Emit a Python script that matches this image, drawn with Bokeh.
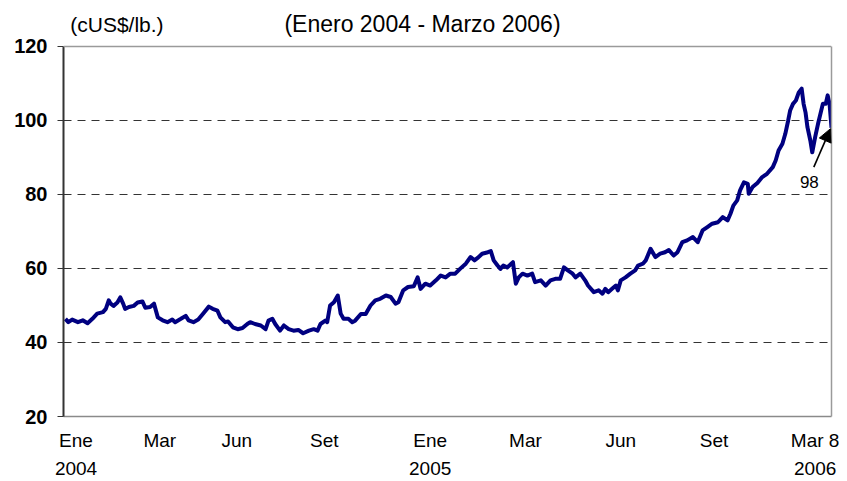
from bokeh.plotting import figure
from bokeh.models import FixedTicker, Range1d, Label, Arrow, NormalHead, ColumnDataSource, LinearAxis, Span
from bokeh.embed import file_html
from bokeh.resources import INLINE

# Precio del cobre (cUS$/lb.), enero 2004 - 8 de marzo 2006 (días desde 1-ene-2004)
dia = [1, 4, 8, 14, 19, 24, 29, 34, 40, 43, 46, 48, 51, 55, 58, 61, 63, 67, 72, 76,
       81, 84, 89, 93, 97, 102, 107, 112, 115, 121, 126, 129, 134, 139, 144, 150, 154, 159, 162, 167,
       170, 175, 180, 185, 190, 193, 198, 204, 209, 212, 216, 219, 224, 228, 233, 238, 243, 248, 254, 259,
       263, 266, 271, 273, 276, 280, 284, 287, 290, 295, 299, 302, 308, 313, 318, 323, 328, 334, 339, 344,
       347, 352, 357, 363, 367, 370, 375, 380, 386, 391, 396, 401, 406, 411, 417, 422, 426, 430, 434, 440,
       443, 446, 450, 453, 456, 460, 466, 469, 472, 476, 481, 486, 489, 495, 500, 505, 510, 515, 519, 523,
       528, 531, 536, 541, 544, 550, 555, 559, 562, 565, 569, 573, 575, 578, 583, 588, 593, 596, 601, 604,
       609, 614, 619, 624, 628, 633, 637, 642, 647, 653, 658, 663, 668, 673, 679, 684, 689, 692, 695, 699,
       702, 706, 710, 711, 715, 720, 725, 730, 736, 739, 742, 746, 749, 752, 754, 757, 760, 763, 766, 768,
       770, 772, 775, 777, 780, 783, 788, 791, 793, 795, 797]
precio = [46.4, 45.5, 46.2, 45.5, 46.0, 45.2, 46.4, 47.8, 48.2, 49.1, 51.4, 50.5, 49.9, 50.8, 52.2, 50.5, 49.1, 49.6, 49.9, 50.8,
          51.1, 49.4, 49.6, 50.5, 46.8, 46.0, 45.5, 46.2, 45.5, 46.4, 47.2, 46.0, 45.5, 46.2, 47.8, 49.7, 49.1, 48.6, 46.8, 45.5,
          45.7, 44.1, 43.6, 43.9, 45.0, 45.5, 45.0, 44.6, 43.6, 45.9, 46.4, 45.0, 43.2, 44.6, 43.6, 43.2, 43.4, 42.5, 43.2, 43.6,
          43.2, 45.0, 45.9, 45.5, 50.0, 50.9, 52.7, 47.8, 46.4, 46.4, 45.5, 45.9, 47.7, 47.7, 50.0, 51.4, 51.8, 52.7, 52.3, 50.5,
          50.9, 54.1, 55.0, 55.2, 57.6, 54.5, 55.9, 55.4, 56.8, 58.1, 57.6, 58.6, 58.6, 59.9, 61.3, 63.1, 62.2, 63.0, 64.0, 64.4,
          64.7, 62.2, 60.8, 59.9, 60.8, 60.3, 61.7, 55.9, 57.6, 58.6, 58.1, 58.6, 56.3, 56.8, 55.4, 56.8, 57.2, 57.2, 60.3, 59.5,
          58.6, 57.6, 58.6, 56.8, 55.4, 53.6, 54.1, 53.2, 54.5, 53.6, 54.5, 55.4, 54.1, 56.8, 57.6, 58.6, 59.5, 60.8, 61.3, 62.2,
          65.3, 63.1, 64.0, 64.4, 65.0, 63.5, 64.4, 67.1, 67.6, 68.5, 67.1, 70.3, 71.2, 72.1, 72.5, 73.9, 73.0, 74.8, 77.0, 78.4,
          81.1, 83.3, 82.9, 80.2, 82.0, 83.1, 84.7, 85.6, 87.4, 89.2, 91.9, 93.7, 96.4, 100.0, 102.7, 104.5, 105.4, 107.6, 108.6, 104.5,
          102.2, 98.2, 94.6, 91.4, 95.5, 99.1, 104.5, 104.5, 106.8, 104.5, 98.0]

tick_pos = [12, 99, 179, 270, 380, 479, 578, 675, 780]
tick_lbl = ["Ene\n2004", "Mar", "Jun", "Set", "Ene\n2005", "Mar", "Jun", "Set", "Mar 8\n2006"]
y_ticks = [20, 40, 60, 80, 100, 120]
grid_vals = [40, 60, 80, 100]
y_min, y_max = 20, 120

titulo = "(Enero 2004 - Marzo 2006)"
unidad = "(cUS$/lb.)"
ultimo = "98"

FONT = "'Liberation Sans', Arial, sans-serif"
BORDER = "#9a9a9a"

p = figure(frame_width=768, frame_height=412,
           min_border_left=63, min_border_top=4, min_border_right=8, min_border_bottom=62,
           x_range=Range1d(-1, 797), y_range=Range1d(y_min, 131.35),
           output_backend="svg", toolbar_location=None,
           background_fill_color="white", border_fill_color="white")

src = ColumnDataSource(dict(x=dia, y=precio))
p.line("x", "y", source=src, line_color="#000080", line_width=4, line_join="round")

p.outline_line_color = None

p.xgrid.visible = False
p.ygrid.ticker = FixedTicker(ticks=grid_vals)
p.ygrid.grid_line_color = "#333333"
p.ygrid.grid_line_dash = "8 6"
p.ygrid.grid_line_width = 1

# top border of the plot area
p.add_layout(Span(location=y_max, dimension="width", line_color=BORDER, line_width=1.5))

ya = p.yaxis[0]
ya.bounds = (y_min, y_max)
ya.ticker = FixedTicker(ticks=y_ticks, minor_ticks=[])
ya.axis_line_color = "#333333"
ya.axis_line_width = 2
ya.major_tick_line_color = "#333333"
ya.major_tick_out = 6
ya.major_tick_in = 0
ya.minor_tick_line_color = None
ya.major_label_standoff = 10
ya.major_label_text_font = FONT
ya.major_label_text_font_style = "bold"
ya.major_label_text_font_size = "20px"
ya.major_label_text_color = "black"

# right border of the plot area
ra = LinearAxis(bounds=(y_min, y_max), ticker=FixedTicker(ticks=[], minor_ticks=[]),
                axis_line_color=BORDER, axis_line_width=1.5,
                major_tick_line_color=None, minor_tick_line_color=None,
                major_label_text_font_size="0px")
p.add_layout(ra, "right")

xa = p.xaxis[0]
xa.ticker = FixedTicker(ticks=tick_pos, minor_ticks=[])
xa.major_label_overrides = dict(zip(tick_pos, tick_lbl))
xa.axis_line_color = "#8a8a8a"
xa.axis_line_width = 1.5
xa.major_tick_line_color = None
xa.minor_tick_line_color = None
xa.major_label_standoff = 7
xa.major_label_text_font = FONT
xa.major_label_text_font_size = "19px"
xa.major_label_text_color = "black"
xa.major_label_text_line_height = 1.35

p.add_layout(Label(x=372, y=126.0, text=titulo, text_align="center", text_baseline="alphabetic",
                   text_font=FONT, text_font_size="23px", text_color="black"))
p.add_layout(Label(x=6, y=126.0, text=unidad, text_align="left", text_baseline="alphabetic",
                   text_font=FONT, text_font_size="21px", text_color="black"))

p.add_layout(Arrow(end=NormalHead(size=13, fill_color="black", line_color="black"),
                   x_start=778.6, y_start=87.4, x_end=dia[-1] - 1, y_end=precio[-1] - 0.2,
                   line_color="black", line_width=1.6))
p.add_layout(Label(x=774, y=83.4, text=ultimo, text_align="center", text_baseline="alphabetic",
                   text_font=FONT, text_font_size="17px", text_color="black"))

open("out.html", "w").write(file_html(p, INLINE))
